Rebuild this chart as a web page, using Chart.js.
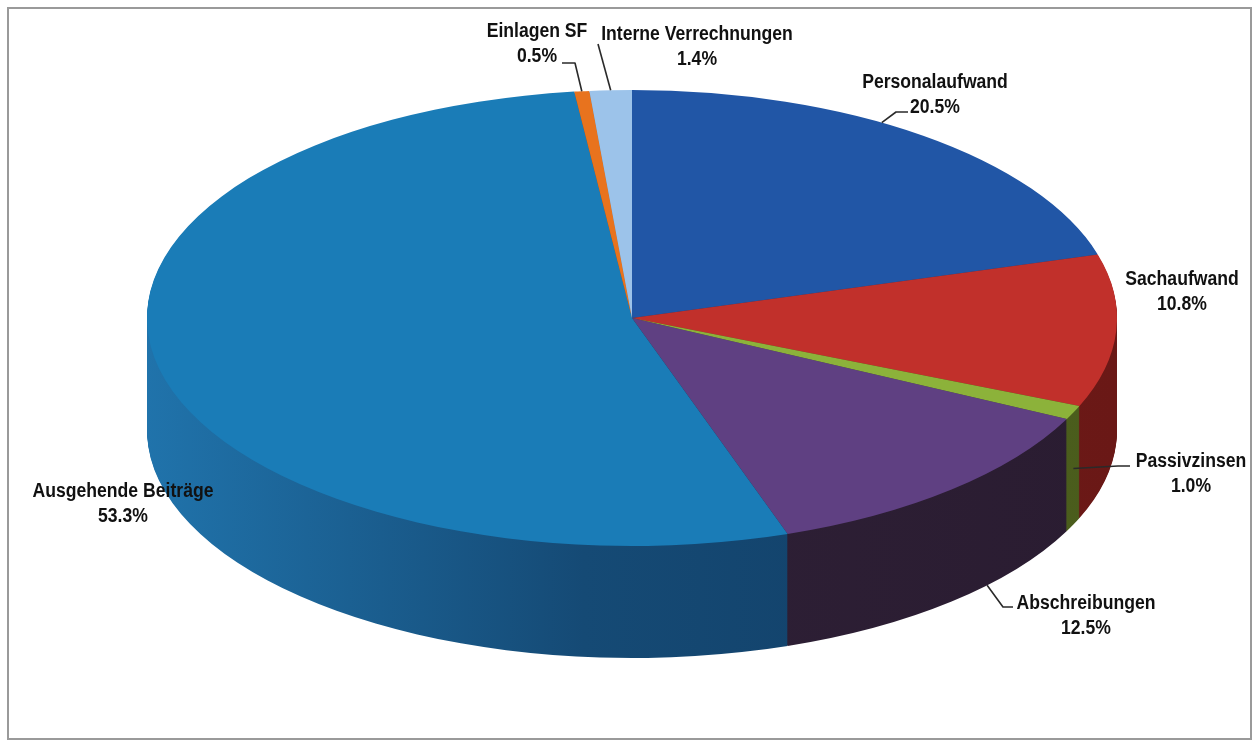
<!DOCTYPE html>
<html><head><meta charset="utf-8">
<script src="https://cdn.jsdelivr.net/npm/chart.js@4/dist/chart.umd.min.js"></script>
<style>html,body{margin:0;padding:0;background:#fff;overflow:hidden}canvas{display:block}</style>
</head><body>
<canvas id="c" width="1256" height="741"></canvas>
<script>
// ---- data ----
const categories = ['Personalaufwand','Sachaufwand','Passivzinsen','Abschreibungen','Ausgehende Beiträge','Einlagen SF','Interne Verrechnungen'];
const shares = [20.5, 10.8, 1.0, 12.5, 53.3, 0.5, 1.4];
const shareLabels = ['20.5%','10.8%','1.0%','12.5%','53.3%','0.5%','1.4%'];

// ---- style ----
const topColors = ['#2156a6','#c1302b','#8cb23a','#5f4082','#1a7cb7','#e8731e','#9cc3ea'];
const sideStops = [
  ['#163a72','#163a72','#163a72'],
  ['#7a1f1c','#741c1a','#6a1816'],
  ['#5a6f22','#526620','#4a5c1c'],
  ['#33233c','#2e2036','#2a1c31'],
  ['#2073ab','#154a75','#113c63'],
  ['#a34f14','#a34f14','#a34f14'],
  ['#6d8aa6','#6d8aa6','#6d8aa6']
];
const PIE = {cx: 632, cy: 318, rx: 485, ry: 228, depth: 112};
const FONT = 'bold 20px "Liberation Sans Narrow", "Arial Narrow", "Liberation Sans", Arial, sans-serif';
const TEXT_SCALE_X = 0.88;
// label placement: text centre x, first line y; leader anchor at fraction f of slice, depth fraction, elbow points
const labelLayout = [
  {x: 935, y: 82, f: 0.42, depth: 0, pts: [[896,112],[908,112]]},
  {x: 1182, y: 279, depth: null},
  {x: 1191, y: 461, f: 0.5, depth: 0.5, pts: [[1118,466],[1130,466]]},
  {x: 1086, y: 603, f: 0.37, depth: 1, pts: [[1003,607],[1013,607]]},
  {x: 123, y: 491, depth: null},
  {x: 537, y: 31, f: 0.5, depth: 0, pts: [[575,63],[562,63]]},
  {x: 697, y: 34, f: 0.5, depth: 0, pts: [[598,44]]}
];

function pieTransform(ctx, el, dy) {
  const R = el.outerRadius;
  ctx.translate(PIE.cx, PIE.cy + dy);
  ctx.scale(PIE.rx / R, PIE.ry / R);
  ctx.translate(-el.x, -el.y);
}

const pie3d = {
  id: 'pie3d',
  beforeDraw(chart) {
    const ctx = chart.ctx;
    ctx.save();
    ctx.fillStyle = '#fff';
    ctx.fillRect(0, 0, chart.width, chart.height);
    ctx.strokeStyle = '#9a9a9a';
    ctx.lineWidth = 2;
    ctx.strokeRect(8, 8, 1243, 731);
    ctx.restore();
  },
  beforeDatasetsDraw(chart) {
    const ctx = chart.ctx;
    const els = chart.getDatasetMeta(0).data;
    const e0 = els[0];
    const R = e0.outerRadius;
    const grads = sideStops.map(s => {
      const g = ctx.createLinearGradient(e0.x - R, 0, e0.x + R, 0);
      g.addColorStop(0, s[0]); g.addColorStop(0.45, s[1]); g.addColorStop(1, s[2]);
      return g;
    });
    const proxies = els.map((el, i) => {
      const p = Object.create(el);
      p.options = Object.assign({}, el.options, {backgroundColor: grads[i], borderWidth: 0});
      return p;
    });
    for (let d = PIE.depth; d >= 1; d -= 1) {
      ctx.save();
      pieTransform(ctx, e0, d);
      proxies.forEach(p => p.draw(ctx));
      ctx.restore();
    }
    ctx.save();
    pieTransform(ctx, e0, 0);
  },
  afterDatasetsDraw(chart) {
    chart.ctx.restore();
  },
  afterDraw(chart) {
    const ctx = chart.ctx;
    const els = chart.getDatasetMeta(0).data;
    ctx.save();
    ctx.strokeStyle = '#2a2a2a';
    ctx.lineWidth = 1.6;
    ctx.lineJoin = 'round';
    els.forEach((el, i) => {
      const L = labelLayout[i];
      if (L.depth !== null) {
        const a = el.startAngle + (el.endAngle - el.startAngle) * L.f;
        const ax = PIE.cx + PIE.rx * Math.cos(a);
        const ay = PIE.cy + PIE.ry * Math.sin(a) + PIE.depth * L.depth;
        ctx.beginPath();
        ctx.moveTo(ax, ay);
        L.pts.forEach(p => ctx.lineTo(p[0], p[1]));
        ctx.stroke();
      }
    });
    ctx.font = FONT;
    ctx.fillStyle = '#111';
    ctx.textAlign = 'center';
    ctx.textBaseline = 'middle';
    els.forEach((el, i) => {
      const L = labelLayout[i];
      [categories[i], shareLabels[i]].forEach((t, k) => {
        ctx.save();
        ctx.translate(L.x, L.y + 25 * k);
        ctx.scale(TEXT_SCALE_X, 1);
        ctx.fillText(t, 0, 0);
        ctx.restore();
      });
    });
    ctx.restore();
  }
};

new Chart(document.getElementById('c'), {
  type: 'pie',
  data: {
    labels: categories,
    datasets: [{
      data: shares,
      backgroundColor: topColors,
      borderWidth: 0,
      clip: false
    }]
  },
  options: {
    responsive: false,
    animation: false,
    events: [],
    layout: {padding: 0},
    plugins: {legend: {display: false}, tooltip: {enabled: false}}
  },
  plugins: [pie3d]
});
</script>
</body></html>
